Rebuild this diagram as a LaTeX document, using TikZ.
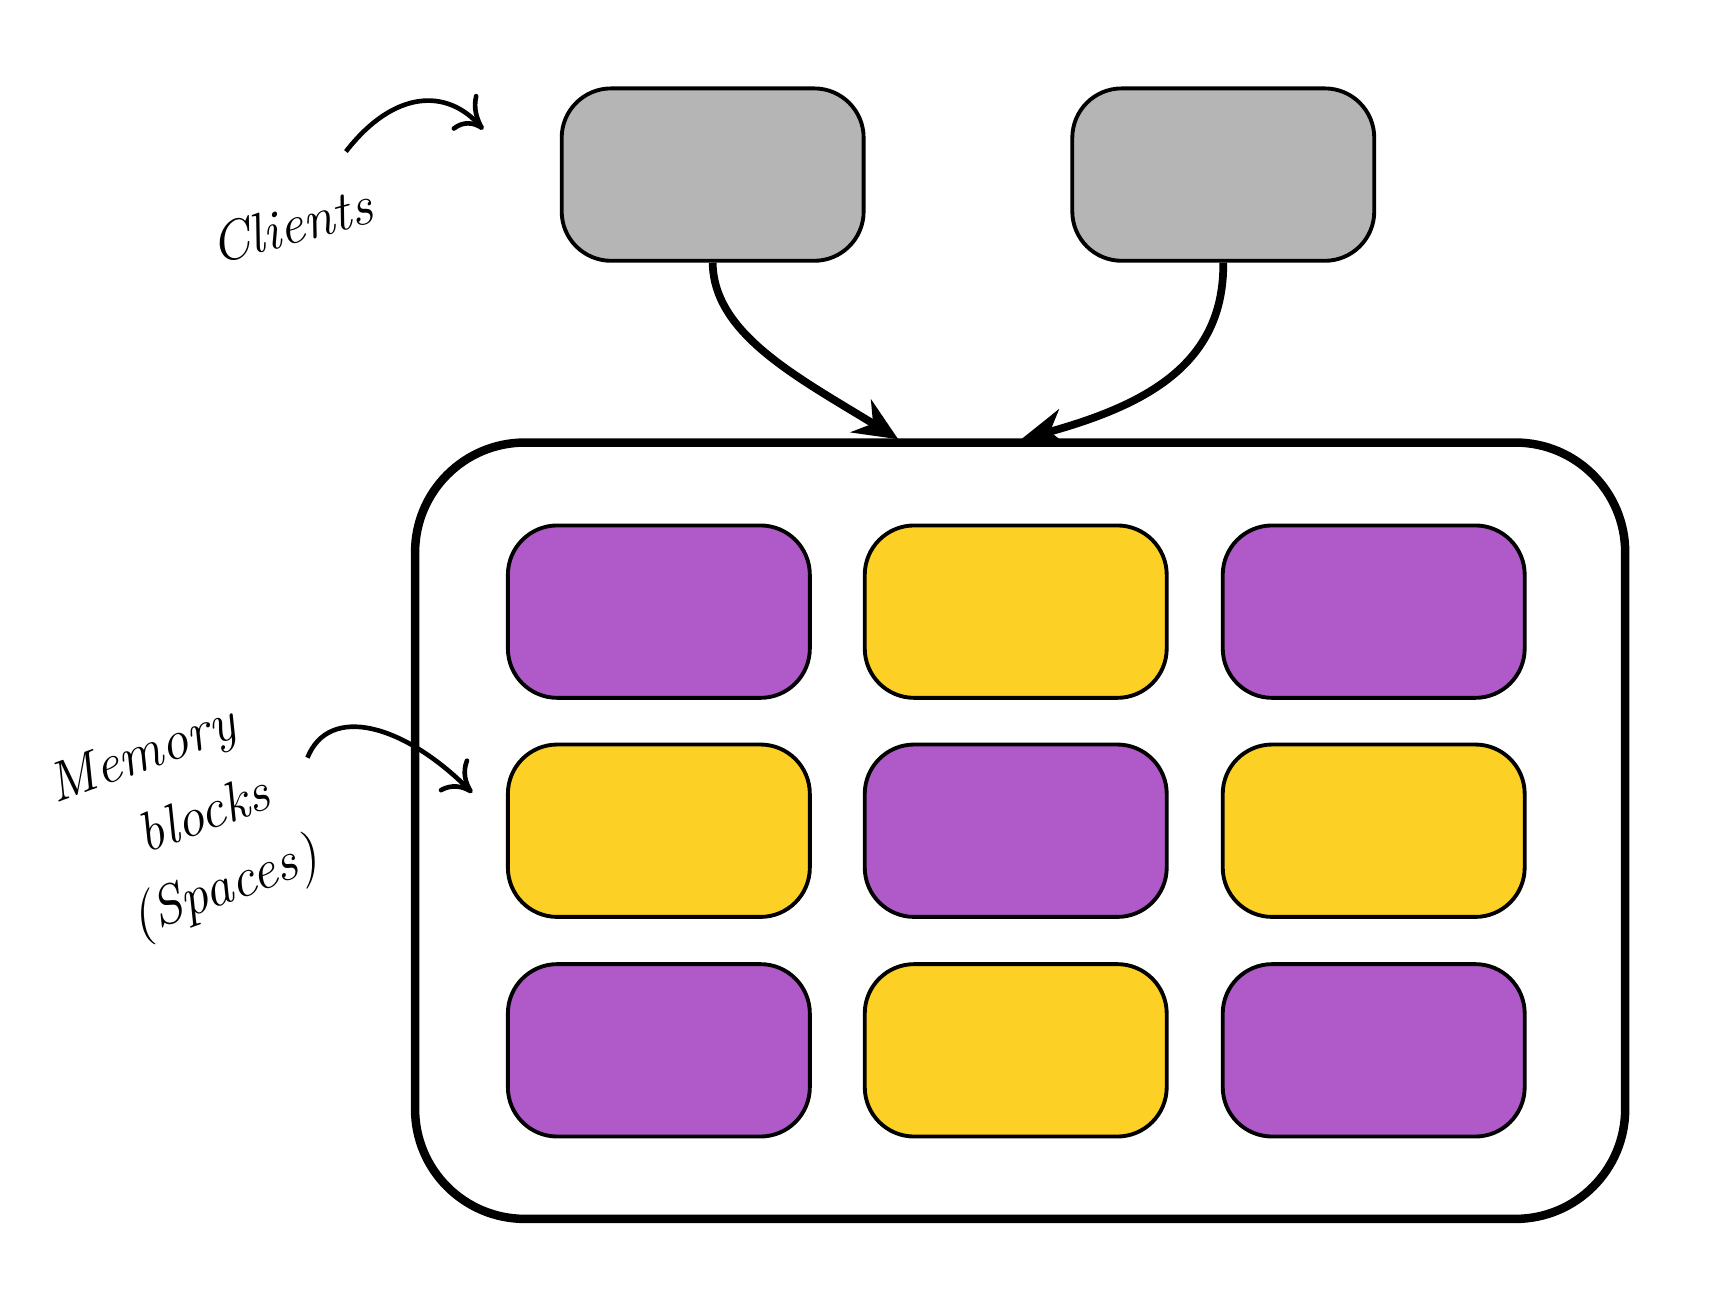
\documentclass[tikz,border=0pt]{standalone}
\usepackage{tikz}
\usetikzlibrary{arrows.meta,bending}
\definecolor{clientgray}{HTML}{B5B5B5}
\definecolor{blockpurple}{HTML}{AF5AC8}
\definecolor{blockyellow}{HTML}{FCD025}
\tikzset{
  block/.style    = {shape=rectangle, rounded corners=4.5mm, draw, line width=1pt,
                     minimum width=2.75cm, minimum height=1.57cm},
  client/.style   = {block, fill=clientgray},
  purpleblk/.style = {block, fill=blockpurple},
  yellowblk/.style = {block, fill=blockyellow},
  note/.style     = {font=\itshape\Large, align=center, inner sep=0pt},
  link/.style     = {line width=2pt, -{Stealth[length=4mm,width=3.5mm]}},
  pointer/.style  = {line width=1.2pt, -{To[length=2.5mm,width=4mm,bend]}}
}
\begin{document}
\begin{tikzpicture}
  \useasboundingbox (0,0) rectangle (15.6,-11.8);

  % clients
  \node [client] (c1) at (6.49,-1.59) {};
  \node [client] (c2) at (11.14,-1.59) {};

  % space holding the memory blocks
  \node [draw, line width=2.2pt, rounded corners=10mm,
         minimum width=11.02cm, minimum height=7.07cm] (mem) at (9.29,-7.565) {};
  \coordinate (in1) at (8.18,-4.0);
  \coordinate (in2) at (9.3,-4.0);

  \node [purpleblk] (b11) at (6.0,-5.57) {};
  \node [yellowblk] (b12) at (9.25,-5.57) {};
  \node [purpleblk] (b13) at (12.51,-5.57) {};
  \node [yellowblk] (b21) at (6.0,-7.565) {};
  \node [purpleblk] (b22) at (9.25,-7.565) {};
  \node [yellowblk] (b23) at (12.51,-7.565) {};
  \node [purpleblk] (b31) at (6.0,-9.565) {};
  \node [yellowblk] (b32) at (9.25,-9.565) {};
  \node [purpleblk] (b33) at (12.51,-9.565) {};

  \draw [link] (c1.south) .. controls (6.5,-3.1) and (7.4,-3.5) .. (in1);
  \draw [link] (c2.south) .. controls (11.15,-3.4) and (10.3,-3.75) .. (in2);

  % hand-written notes
  \node [note, rotate=15] (clients) at (2.65,-2.05) {Clients};
  \coordinate (cl) at (4.4,-1.18);
  \draw [pointer] (3.15,-1.38) .. controls (3.6,-0.8) and (4.1,-0.8) .. (cl);

  \node [note, rotate=20] (memory) at (1.3,-6.9) {Memory};
  \node [note, rotate=20] (blks)   at (1.85,-7.4) {blocks};
  \node [note, rotate=20] (spaces) at (2.05,-8.1) {(Spaces)};
  \coordinate (bl) at (4.3,-7.22);
  \draw [pointer] (2.8,-6.9) .. controls (3.0,-6.4) and (3.7,-6.6) .. (bl);
\end{tikzpicture}
\end{document}
